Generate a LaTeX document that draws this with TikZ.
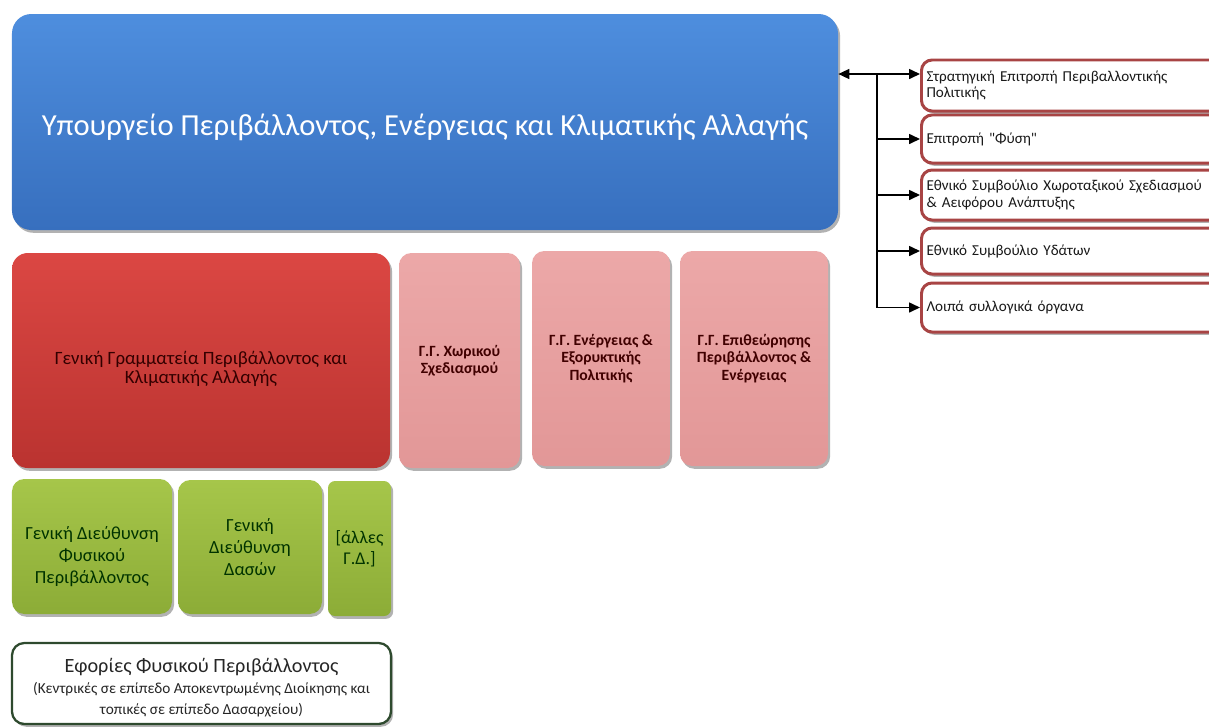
\documentclass[tikz,border=0pt]{standalone}
\usepackage{fontspec}
\setmainfont{Carlito}[Ligatures=TeXOff]
\usetikzlibrary{positioning,arrows.meta}
\definecolor{ministryT}{HTML}{4E8EDE}
\definecolor{ministryB}{HTML}{376FBE}
\definecolor{gsecT}{HTML}{DB4743}
\definecolor{gsecB}{HTML}{BA3330}
\definecolor{ggT}{HTML}{ECA8A8}
\definecolor{ggB}{HTML}{E29797}
\definecolor{gdT}{HTML}{A6C64A}
\definecolor{gdB}{HTML}{8CAC37}
\definecolor{cncred}{HTML}{A84444}
\definecolor{ephgreen}{HTML}{2E4A2E}

\begin{document}
\begin{tikzpicture}[
  shadowed/.style={preaction={fill=black, opacity=.3, transform canvas={xshift=1.2pt,yshift=-1.6pt}}},
  panel/.style={shadowed, rounded corners=7pt, align=center, inner sep=2pt},
  council/.style={shadowed, draw=cncred, line width=1.7pt, fill=white, rounded corners=6pt,
    anchor=west, text width=6.2cm, inner xsep=0.1cm, align=left, text=black!90,
    font=\fontsize{8.6}{9.4}\selectfont},
  link/.style={-{Triangle[length=2.2mm,width=2mm]}, line width=0.9pt}]
  \useasboundingbox (0,0) rectangle (24.18,-14.54);
  \clip (0,0) rectangle (24.18,-14.54);

  % ministry
  \node[panel, rounded corners=11pt, top color=ministryT, bottom color=ministryB, text=white,
    minimum width=16.52cm, minimum height=4.32cm, font=\fontsize{17.4}{20}\selectfont]
    (min) at (8.5,-2.44) {\rule{0pt}{18pt}Υπουργείο Περιβάλλοντος, Ενέργειας και Κλιματικής Αλλαγής};

  % general secretariats
  \node[panel, rounded corners=9pt, top color=gsecT, bottom color=gsecB, text=black!80!red,
    minimum width=7.56cm, minimum height=4.3cm, font=\fontsize{10.7}{11}\selectfont]
    (gsec) at (4.02,-7.21) {\rule{0pt}{17pt}Γενική Γραμματεία Περιβάλλοντος και\\Κλιματικής Αλλαγής};
  \node[panel, top color=ggT, bottom color=ggB, text=black!75!red, minimum width=2.42cm,
    minimum height=4.3cm, font=\fontsize{8.9}{10}\selectfont\bfseries]
    (gg1) at (9.19,-7.21) {Γ.Γ. Χωρικού\\Σχεδιασμού};
  \node[panel, top color=ggT, bottom color=ggB, text=black!75!red, minimum width=2.76cm,
    minimum height=4.3cm, font=\fontsize{8.9}{10}\selectfont\bfseries]
    (gg2) at (12.02,-7.17) {Γ.Γ. Ενέργειας \&\\Εξορυκτικής\\Πολιτικής};
  \node[panel, top color=ggT, bottom color=ggB, text=black!75!red, minimum width=2.96cm,
    minimum height=4.3cm, font=\fontsize{8.9}{10}\selectfont\bfseries]
    (gg3) at (15.08,-7.17) {Γ.Γ. Επιθεώρησης\\Περιβάλλοντος \&\\Ενέργειας};

  % general directorates
  \node[panel, top color=gdT, bottom color=gdB, text=black!80!green, minimum width=3.2cm,
    minimum height=2.7cm, font=\fontsize{10.5}{12.5}\selectfont]
    (gd1) at (1.84,-10.93) {\rule{0pt}{19pt}Γενική Διεύθυνση\\Φυσικού\\Περιβάλλοντος};
  \node[panel, top color=gdT, bottom color=gdB, text=black!80!green, minimum width=2.88cm,
    minimum height=2.68cm, font=\fontsize{10.5}{12.5}\selectfont]
    (gd2) at (5.0,-10.94) {Γενική\\Διεύθυνση\\Δασών};
  \node[panel, rounded corners=4pt, top color=gdT, bottom color=gdB, text=black!80!green,
    minimum width=1.26cm, minimum height=2.7cm, font=\fontsize{10.2}{12}\selectfont]
    (gd3) at (7.19,-10.97) {[άλλες\\Γ.Δ.]};

  % ephorates
  \node[panel, draw=ephgreen, line width=1.3pt, fill=white, minimum width=7.58cm,
    minimum height=1.62cm, text=black!85]
    (eph) at (4.03,-13.67) {{\fontsize{11.5}{12}\selectfont\rule{0pt}{13pt}Εφορίες Φυσικού Περιβάλλοντος}\\
    {\fontsize{8.7}{9.4}\selectfont (Κεντρικές σε επίπεδο Αποκεντρωμένης Διοίκησης και}\\
    {\fontsize{8.7}{9.4}\selectfont τοπικές σε επίπεδο Δασαρχείου)}};

  % collective bodies
  \node[council, minimum height=1.02cm] (c1) at (18.4,-1.71) {Στρατηγική Επιτροπή Περιβαλλοντικής\\Πολιτικής};
  \node[council, minimum height=0.96cm] (c2) at (18.4,-2.78) {Επιτροπή "Φύση"};
  \node[council, minimum height=1.0cm] (c3) at (18.4,-3.90) {Εθνικό Συμβούλιο Χωροταξικού Σχεδιασμού\\\& Αειφόρου Ανάπτυξης};
  \node[council, minimum height=0.92cm] (c4) at (18.4,-5.02) {Εθνικό Συμβούλιο Υδάτων};
  \node[council, minimum height=0.98cm] (c5) at (18.4,-6.15) {Λοιπά συλλογικά όργανα};

  \coordinate (bus) at (17.54,-1.48);
  \draw[line width=0.9pt, {Triangle[length=2.2mm,width=2mm]}-{Triangle[length=2.2mm,width=2mm]}]
    (min.east |- bus) -- (c1.west |- bus);
  \draw[line width=0.9pt] (bus) -- (bus |- c5.west);
  \foreach \c in {c2,c3,c4,c5} \draw[link] (bus |- \c.west) -- (\c.west);
\end{tikzpicture}
\end{document}
